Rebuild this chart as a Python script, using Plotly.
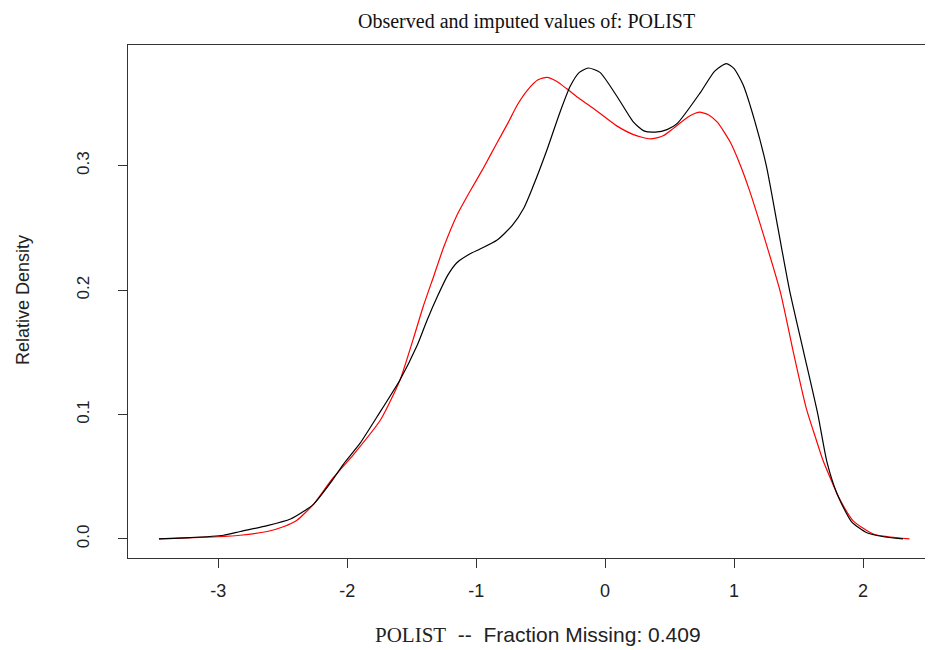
import plotly.graph_objects as go

# Observed values density (black)
obs_x = [-3.46, -3.22, -2.96, -2.83, -2.62, -2.44, -2.34, -2.26, -2.13, -2.03, -1.90, -1.77,
         -1.59, -1.46, -1.38, -1.30, -1.22, -1.15, -1.05, -0.97, -0.84, -0.72, -0.63, -0.56, -0.45,
         -0.35, -0.27, -0.20, -0.13, -0.04, 0.09, 0.22, 0.30, 0.39, 0.48, 0.56, 0.74, 0.85,
         0.94, 1.00, 1.07, 1.16, 1.25, 1.34, 1.43, 1.54, 1.65, 1.72, 1.80, 1.91,
         2.03, 2.15, 2.31]
obs_y = [0.000, 0.001, 0.003, 0.006, 0.0107, 0.016, 0.022, 0.028, 0.045, 0.060, 0.077, 0.098,
         0.128, 0.155, 0.176, 0.195, 0.212, 0.222, 0.229, 0.233, 0.240, 0.252, 0.266, 0.283, 0.313,
         0.343, 0.364, 0.375, 0.3785, 0.375, 0.356, 0.335, 0.328, 0.327, 0.329, 0.334, 0.359, 0.376,
         0.382, 0.378, 0.365, 0.336, 0.300, 0.250, 0.200, 0.150, 0.100, 0.062, 0.036, 0.014,
         0.005, 0.002, 0.000]

# Imputed values density (red)
imp_x = [-3.46, -3.09, -2.83, -2.62, -2.49, -2.39, -2.31, -2.26, -2.11, -1.95, -1.74, -1.59,
         -1.49, -1.41, -1.33, -1.25, -1.15, -1.05, -0.95, -0.84, -0.75, -0.68, -0.60, -0.52, -0.45,
         -0.38, -0.30, -0.20, -0.09, 0.09, 0.22, 0.35, 0.45, 0.53, 0.64, 0.73, 0.80, 0.87,
         0.97, 1.05, 1.12, 1.25, 1.36, 1.46, 1.56, 1.63, 1.69, 1.75, 1.80, 1.92, 2.08, 2.36]
imp_y = [0.000, 0.0014, 0.003, 0.006, 0.010, 0.015, 0.0226, 0.028, 0.049, 0.068, 0.096, 0.128,
         0.160, 0.187, 0.211, 0.235, 0.260, 0.279, 0.297, 0.318, 0.335, 0.349, 0.361, 0.369, 0.371,
         0.368, 0.362, 0.354, 0.346, 0.332, 0.325, 0.3215, 0.324, 0.330, 0.339, 0.343, 0.341, 0.335,
         0.319, 0.300, 0.280, 0.237, 0.198, 0.150, 0.105, 0.082, 0.063, 0.048, 0.036, 0.015, 0.004, 0.000]

x_ticks = [-3, -2, -1, 0, 1, 2]
y_ticks = [0.0, 0.1, 0.2, 0.3]

title_text = "Observed and imputed values of: POLIST"
xlab_var = "POLIST"
xlab_rest = "  --  Fraction Missing: 0.409"
ylab_text = "Relative Density"

fig = go.Figure()
fig.add_trace(go.Scatter(x=imp_x, y=imp_y, mode="lines",
                         line=dict(color="#ff0000", width=1.2, shape="spline", smoothing=0.6),
                         showlegend=False, hoverinfo="skip"))
fig.add_trace(go.Scatter(x=obs_x, y=obs_y, mode="lines",
                         line=dict(color="#000000", width=1.2, shape="spline", smoothing=0.6),
                         showlegend=False, hoverinfo="skip"))

# page has an 8px body margin; figure coordinates = page coordinates - 8
W, H = 925, 642
L, T, B, R = 120, 37, 92, 0
plot_bottom = H - B

fig.update_layout(
    width=W, height=H,
    margin=dict(l=L, t=T, b=B, r=R, pad=0),
    paper_bgcolor="white", plot_bgcolor="white",
    xaxis=dict(range=[-3.70, (933 - 605) / 129.0], tickvals=x_ticks, ticktext=[str(v) for v in x_ticks],
               showgrid=False, zeroline=False, showline=True, linecolor="#333333", linewidth=1.4,
               mirror=True, ticks="outside", ticklen=9, tickwidth=1.2, tickcolor="#333333",
               ticklabelstandoff=7,
               tickfont=dict(family="Liberation Sans, Arial", size=18, color="#222222")),
    yaxis=dict(range=[-0.0153, 0.397], tickvals=y_ticks, tickformat=".1f",
               showgrid=False, zeroline=False, showline=True, linecolor="#333333", linewidth=1.4,
               mirror=False, ticks="outside", ticklen=9, tickwidth=1.2, tickcolor="#333333",
               tickangle=-90, ticklabelstandoff=22,
               tickfont=dict(family="Liberation Sans, Arial", size=17, color="#222222")),
    annotations=[
        dict(text=title_text, xref="paper", yref="paper", x=(518 - L) / (W - L), y=1,
             xanchor="center", yanchor="middle", yshift=T - 13, showarrow=False,
             font=dict(family="Liberation Serif, Times New Roman", size=20, color="#111111")),
        dict(text="<span style='font-family:Liberation Serif, Times New Roman'>" + xlab_var + "</span>" + xlab_rest,
             xref="paper", yref="paper", x=(530 - L) / (W - L), y=0,
             xanchor="center", yanchor="middle", yshift=-(627 - plot_bottom), showarrow=False,
             font=dict(family="Liberation Sans, Arial", size=21, color="#222222")),
        dict(text=ylab_text, xref="paper", yref="paper", x=0, y=(plot_bottom - 292) / (plot_bottom - T),
             xanchor="center", yanchor="middle", xshift=-(L - 15), textangle=-90, showarrow=False,
             font=dict(family="Liberation Sans, Arial", size=18, color="#222222")),
    ],
)

fig.write_html("out.html")
